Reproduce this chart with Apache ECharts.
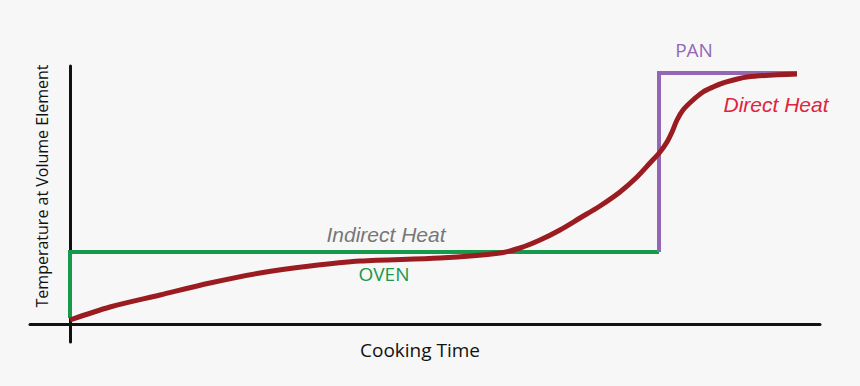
<!DOCTYPE html>
<html>
<head>
<meta charset="utf-8">
<script src="https://cdn.jsdelivr.net/npm/echarts@6/dist/echarts.min.js"></script>
<style>
html,body{margin:0;padding:0;background:#f7f7f7;}
#chart{width:860px;height:386px;}
</style>
</head>
<body>
<div id="chart"></div>
<script>
// Values in chart units (time along x, temperature along y)
var ovenPoints = [[0, 6], [0, 72], [589, 72]];
var panPoints = [[589, 72], [589, 251], [727, 251]];
var foodPoints = [
  [0, 4], [40, 17], [90, 29], [140, 41], [190, 51], [240, 58], [290, 63],
  [370, 66], [430, 71], [450, 76], [470, 84], [490, 94], [510, 106], [530, 118],
  [550, 132], [567, 147], [580, 161], [590, 172], [597, 182], [602, 192],
  [607, 204], [613, 214], [623, 224], [633, 232], [643, 237], [653, 241],
  [677, 247], [727, 250]
];
var xTitle = 'Cooking Time';
var yTitle = 'Temperature at Volume Element';
var labels = {indirect: 'Indirect Heat', oven: 'OVEN', pan: 'PAN', direct: 'Direct Heat'};

var FONT = 'Open Sans';
var ARIAL = 'Liberation Sans';
var chart = echarts.init(document.getElementById('chart'), null, {renderer: 'svg'});
chart.setOption({
  backgroundColor: '#f7f7f7',
  animation: false,
  grid: {left: 30, right: 40, top: 66, bottom: 44},
  xAxis: {
    type: 'value', min: -40, max: 750,
    axisLine: {onZero: true, lineStyle: {color: '#111', width: 3}},
    axisTick: {show: false}, axisLabel: {show: false}, splitLine: {show: false}
  },
  yAxis: {
    type: 'value', min: -18, max: 258,
    axisLine: {show: true, onZero: true, lineStyle: {color: '#111', width: 3}},
    axisTick: {show: false}, axisLabel: {show: false}, splitLine: {show: false}
  },
  series: [
    {type: 'line', data: ovenPoints, symbol: 'none', z: 3,
     lineStyle: {color: '#17994b', width: 4, join: 'miter'}},
    {type: 'line', data: panPoints, symbol: 'none', z: 3,
     lineStyle: {color: '#9467b5', width: 4, join: 'miter'}},
    {type: 'line', data: foodPoints, symbol: 'none', smooth: 0.3, z: 4,
     lineStyle: {color: '#9b1c20', width: 5}}
  ],
  graphic: [
    {type: 'text', x: 420, y: 350, style: {text: xTitle, font: '19px "' + FONT + '"', fill: '#111', textAlign: 'center', textVerticalAlign: 'middle'}},
    {type: 'text', x: 42, y: 186, rotation: Math.PI / 2,
     style: {text: yTitle, font: '16px "' + FONT + '"', fill: '#111', textAlign: 'center', textVerticalAlign: 'middle'}},
    {type: 'text', x: 386, y: 234, style: {text: labels.indirect, font: 'italic 21px "' + ARIAL + '"', fill: '#777', textAlign: 'center', textVerticalAlign: 'middle'}},
    {type: 'text', x: 384, y: 274, style: {text: labels.oven, font: '19px "' + FONT + '"', fill: '#17994b', textAlign: 'center', textVerticalAlign: 'middle'}},
    {type: 'text', x: 694, y: 50, style: {text: labels.pan, font: '19px "' + FONT + '"', fill: '#9467b5', textAlign: 'center', textVerticalAlign: 'middle'}},
    {type: 'text', x: 776, y: 104, style: {text: labels.direct, font: 'italic 21px "' + ARIAL + '"', fill: '#e0243a', textAlign: 'center', textVerticalAlign: 'middle'}}
  ]
});
</script>
</body>
</html>
